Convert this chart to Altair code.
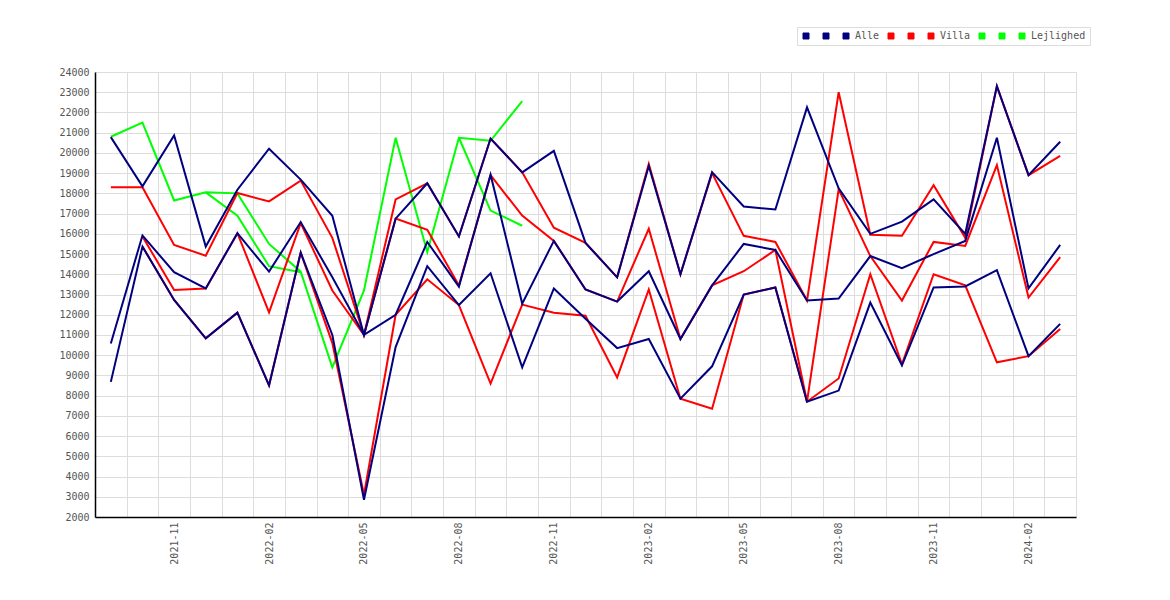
import altair as alt
import pandas as pd

months = ["2021-09", "2021-10", "2021-11", "2021-12", "2022-01", "2022-02", "2022-03",
          "2022-04", "2022-05", "2022-06", "2022-07", "2022-08", "2022-09", "2022-10",
          "2022-11", "2022-12", "2023-01", "2023-02", "2023-03", "2023-04", "2023-05",
          "2023-06", "2023-07", "2023-08", "2023-09", "2023-10", "2023-11", "2023-12",
          "2024-01", "2024-02", "2024-03"]

alle_high = [20780, 18350, 20860, 15370, 18180, 20210, 18680, 16890, 11000, 16750, 18500,
             15870, 20710, 19040, 20100, 15550, 13850, 19350, 14000, 19050, 17350, 17200,
             22250, 18250, 16000, 16600, 17700, 16000, 23300, 18900, 20550]
alle_mid = [10580, 15920, 14100, 13300, 16030, 14130, 16580, 13850, 11000, 12000, 15600,
            13390, 18925, 12550, 15650, 13250, 12650, 14150, 10800, 13450, 15500, 15200,
            12700, 12800, 14900, 14300, 15000, 15650, 20750, 13300, 15450]
alle_low = [8680, 15370, 12730, 10830, 12100, 8510, 15070, 11000, 2850, 10400, 14400,
            12480, 14050, 9400, 13300, 11800, 10350, 10800, 7850, 9450, 13000, 13350,
            7700, 8250, 12600, 9500, 13350, 13400, 14200, 9950, 11550]

villa_high = [18300, 18300, 15450, 14920, 18020, 17600, 18630, 15800, 11000, 17700, 18500,
              15870, 20710, 19040, 16300, 15550, 13850, 19450, 14000, 19000, 15900, 15600,
              12700, 23000, 15950, 15900, 18400, 15800, 23300, 18900, 19850]
villa_mid = [None, 15870, 13220, 13300, 16030, 12120, 16530, 13200, 11000, 16750, 16200,
             13450, 18900, 16900, 15650, 13250, 12650, 16250, 10800, 13450, 14150, 15200,
             7700, 18200, 14900, 12700, 15600, 15400, 19400, 12850, 14850]
villa_low = [None, 15370, 12730, 10830, 12100, 8510, 15070, 10600, 3100, 12000, 13750,
             12480, 8600, 12500, 12100, 11950, 8900, 13250, 7850, 7350, 13000, 13350,
             7700, 8850, 14000, 9550, 14000, 13450, 9650, 9950, 11300]

lejl_high = [20800, 21500, 17650, 18050, 18000, 15500, 14130, 9400, 13200, 20750, 15100,
             20750, 20600, 22560, None, None, None, None, None, None, None, None,
             None, None, None, None, None, None, None, None, None]
lejl_mid = [None, None, None, 18050, 16900, 14400, 14100, None, None, None, None,
            20750, 17150, 16400, None, None, None, None, None, None, None, None,
            None, None, None, None, None, None, None, None, None]
lejl_low = [None] * len(months)

keys = ["a1", "a2", "Alle", "v1", "v2", "Villa", "l1", "l2", "Lejlighed"]
groups = ["Alle", "Alle", "Alle", "Villa", "Villa", "Villa", "Lejlighed", "Lejlighed", "Lejlighed"]
colors = ["#000080", "#000080", "#000080", "#ff0000", "#ff0000", "#ff0000",
          "#00ff00", "#00ff00", "#00ff00"]
all_series = [alle_high, alle_mid, alle_low, villa_high, villa_mid, villa_low,
              lejl_high, lejl_mid, lejl_low]

rows = []
for key, grp, vals in zip(keys, groups, all_series):
    seg = 0
    prev = None
    for m, v in zip(months, vals):
        if v is None:
            if prev is not None:
                seg += 1
            prev = None
            continue
        rows.append({"month": m, "key": key, "grp": grp, "seg": f"{key}-{seg}", "value": v})
        prev = v
df = pd.DataFrame(rows)

FONT = "DejaVu Sans Mono"

x_enc = alt.X(
    "month:O",
    bandPosition=0.5,
    scale=alt.Scale(type="band", domain=months, paddingInner=0, paddingOuter=0),
    axis=alt.Axis(
        title=None, tickBand="extent", ticks=False, grid=True, gridColor="#dddddd",
        domainColor="#000000", domainWidth=1.5, labelAngle=270, labelFont=FONT,
        labelFontSize=10, labelColor="#555555", labelPadding=5,
        labelExpr="indexof(['02','05','08','11'], substring(datum.label,5,7)) >= 0 ? datum.label : ''",
    ),
)
y_enc = alt.Y(
    "value:Q",
    scale=alt.Scale(domain=[2000, 24000], nice=False, zero=False),
    axis=alt.Axis(
        title=None, values=list(range(2000, 24001, 1000)), format="d", ticks=False,
        grid=True, gridColor="#dddddd", domainColor="#000000", domainWidth=1.5,
        labelFont=FONT, labelFontSize=10, labelColor="#555555", labelPadding=6,
    ),
)
color_enc = alt.Color(
    "key:N",
    scale=alt.Scale(domain=keys, range=colors),
    legend=alt.Legend(
        title=None, orient="none", legendX=702, legendY=-45, direction="horizontal",
        columns=9, symbolType="square", symbolSize=36, symbolOpacity=1,
        symbolStrokeColor="#555555", symbolStrokeWidth=1,
        labelFont=FONT, labelFontSize=10,
        labelColor="#555555", labelOffset=4, columnPadding=6, padding=4,
        strokeColor="#dddddd",
        labelExpr="length(datum.label) <= 2 ? ' ' : datum.label",
    ),
)

# legend-only layer: no rows survive the filter, so it draws nothing itself
legend_layer = alt.Chart(df).transform_filter("false").mark_square(
    filled=True, opacity=1, stroke="#555555", strokeWidth=1
).encode(x=x_enc, y=y_enc, color=color_enc)

def layer_for(grp):
    return alt.Chart(df).transform_filter(alt.datum.grp == grp).mark_line(
        strokeWidth=2, strokeJoin="miter"
    ).encode(x=x_enc, y=y_enc, color=color_enc, detail="seg:N")

chart = alt.layer(
    legend_layer, layer_for("Lejlighed"), layer_for("Villa"), layer_for("Alle")
).properties(
    width=981, height=445,
    autosize=alt.AutoSizeParams(type="none"),
    padding={"left": 87, "top": 64, "right": 30, "bottom": 70},
).configure_view(strokeOpacity=0)

chart.save("out.html", embed_options={"renderer": "svg", "actions": False})
